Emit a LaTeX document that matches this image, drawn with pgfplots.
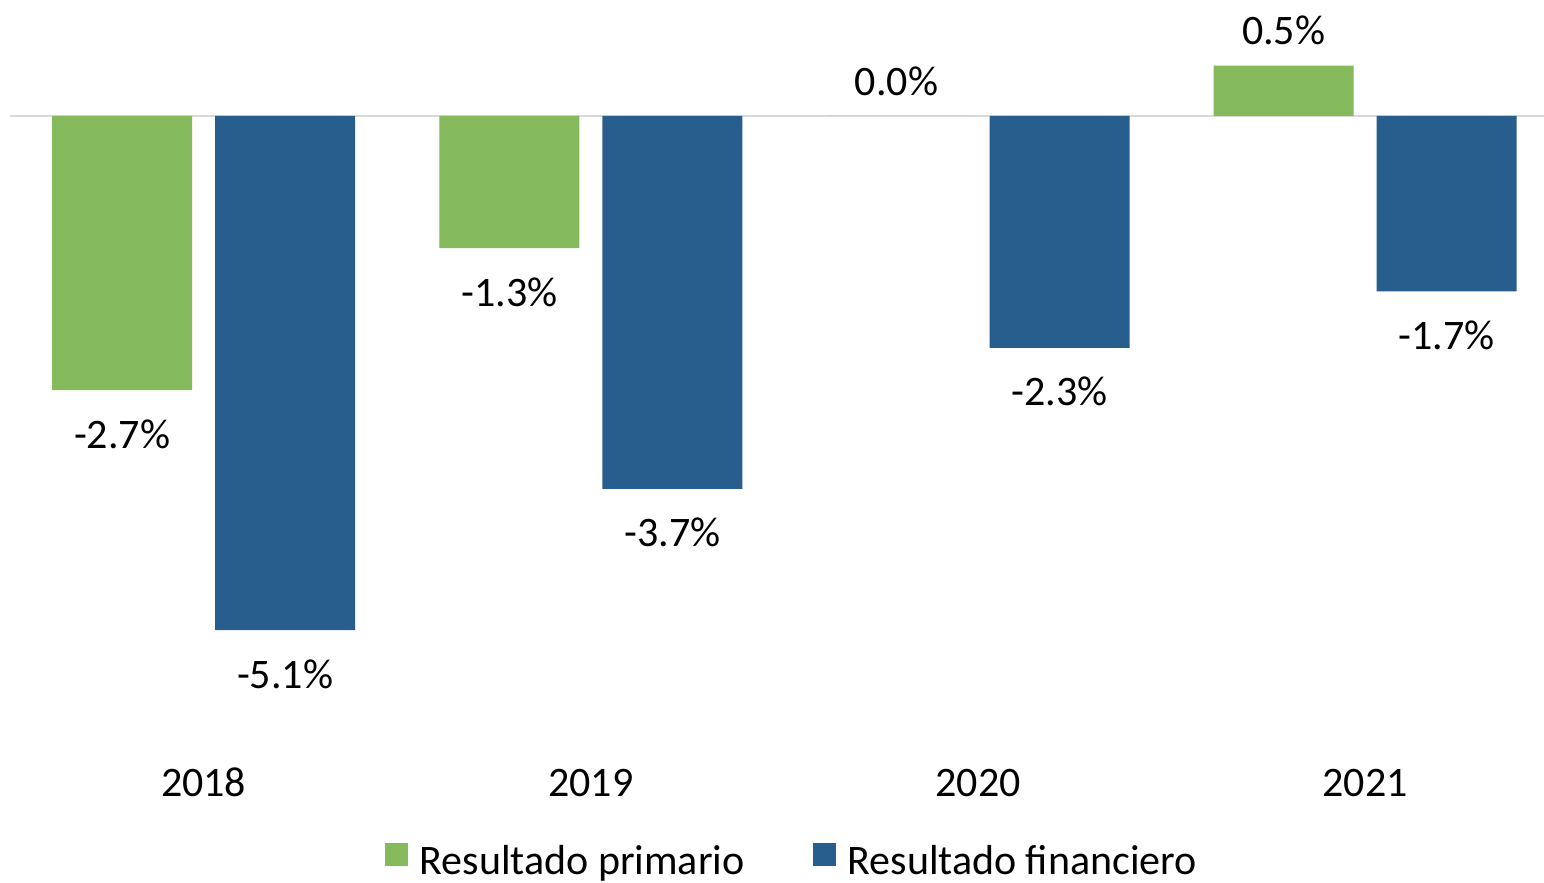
\documentclass[border=0pt]{standalone}
\usepackage{fontspec}
\setmainfont{Carlito}
\usepackage{pgfplots}
\usepackage{pgfplotstable}
\pgfplotsset{compat=1.18}
\definecolor{pgreen}{RGB}{132,186,91}
\definecolor{pblue}{RGB}{40,94,142}
\definecolor{zline}{RGB}{217,217,217}
\pgfplotstableread{
x prim fin
0 -2.72 -5.10
1 -1.31 -3.70
2 0.00 -2.30
3 0.50 -1.74
}\data
\pgfplotsset{mylegend/.style={legend image code/.code={\fill[##1] (0pt,-2pt) rectangle (11.5pt,9.5pt);}}}
\begin{document}
\begin{tikzpicture}
\path[use as bounding box] (-5pt,-66.5pt) rectangle (767pt,375pt);
\begin{axis}[
 at={(0,0)}, anchor=south west,
 scale only axis, width=767pt, height=367.4pt,
 xmin=-0.5, xmax=3.4618, ymin=-6.29, ymax=1.0,
 ybar=11.5pt, bar width=70pt,
 axis line style={draw=none},
 major tick length=0pt,
 xtick={0,1,2,3}, xticklabels={2018,2019,2020,2021},
 xtick pos=bottom, ytick pos=left,
 xticklabel style={anchor=base, yshift=-23.5pt, font=\fontsize{21pt}{25pt}\selectfont},
 ytick={0}, yticklabels={\empty},
 ymajorgrids, major grid style={draw=zline, line width=1pt},
 nodes near coords={\pgfmathprintnumber[fixed,precision=1,zerofill,assume math mode=true]{\pgfplotspointmeta}\%},
 nodes near coords align={vertical},
 every node near coord/.append style={font=\fontsize{21pt}{25pt}\selectfont, inner ysep=12.25pt, yshift=-2.25pt, text=black},
 legend columns=2,
 legend style={at={(0.509,-0.150)}, anchor=center, draw=none, fill=none,
   font=\fontsize{21pt}{25pt}\selectfont, inner sep=0pt, nodes={inner sep=0pt},
   /tikz/every even column/.append style={column sep=34pt},
   /tikz/every odd column/.append style={column sep=6pt}},
 clip=false,
]
\addplot[fill=pgreen, draw=none, mylegend] table[x=x, y=prim] {\data};
\addplot[fill=pblue, draw=none, mylegend] table[x=x, y=fin] {\data};
\legend{Resultado primario, Resultado financiero}
\end{axis}
\end{tikzpicture}
\end{document}
